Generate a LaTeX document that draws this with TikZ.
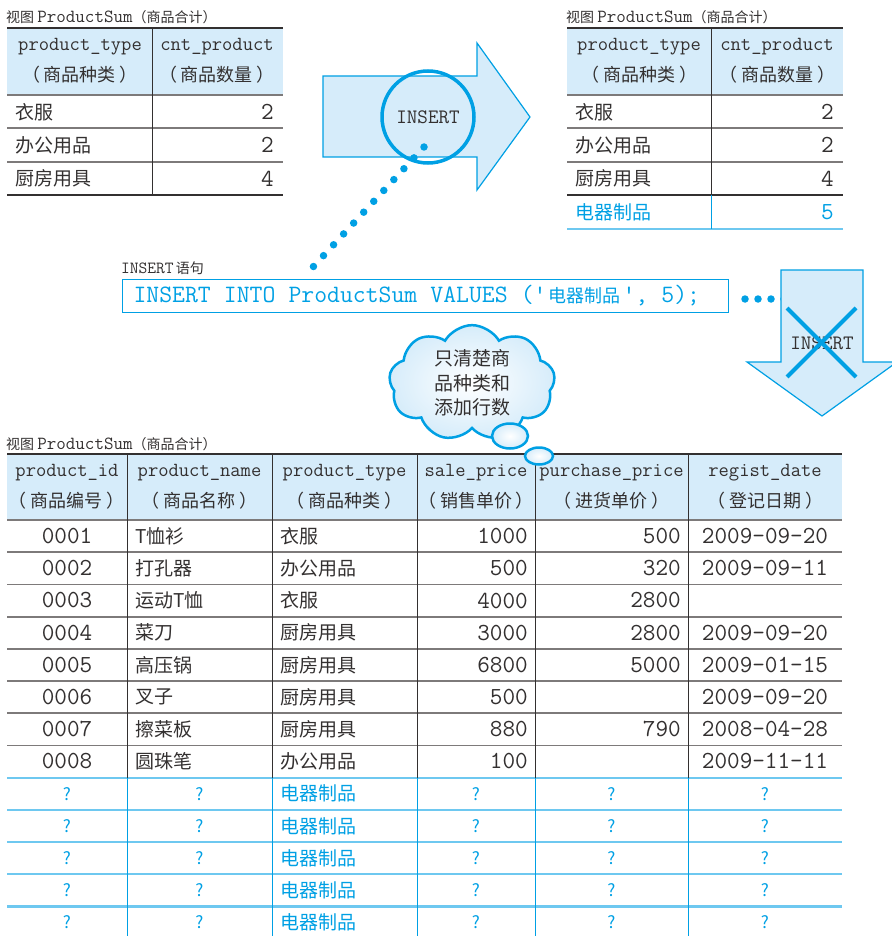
\documentclass[tikz,border=0pt]{standalone}
\usepackage{fontspec}
\setmainfont{Noto Sans CJK SC}
\newfontfamily\cjk{Noto Sans CJK SC}
\usetikzlibrary{shapes.symbols,shapes.geometric}

\definecolor{ink}{RGB}{51,48,48}
\definecolor{sqlblue}{RGB}{0,160,228}
\definecolor{paleblue}{RGB}{214,236,250}
\definecolor{rowblue}{RGB}{110,200,240}
\definecolor{rulegray}{RGB}{125,122,122}

% full-width brackets with some air inside
\newcommand{\wrapcn}[1]{（\hspace{4pt}#1\hspace{4pt}）}

\tikzset{
  cell/.style={inner sep=0pt, text=ink},
  tthead/.style={cell, font=\ttfamily\fontsize{20}{22}\selectfont},
  cnhead/.style={cell, font=\cjk\fontsize{18}{20}\selectfont},
  ttnum/.style={cell, font=\ttfamily\fontsize{24.5}{26}\selectfont},
  cntext/.style={cell, font=\cjk\fontsize{19}{22}\selectfont},
  qmark/.style={cell, text=sqlblue, font=\cjk\fontsize{17}{20}\selectfont},
  caption/.style={cell, anchor=west, font=\cjk\fontsize{14}{16}\selectfont},
  topline/.style={draw=ink, line width=2.2pt},
  rowline/.style={draw=rulegray, line width=1.8pt},
  colline/.style={draw=ink, line width=1pt},
  blueline/.style={draw=rowblue, line width=2.2pt},
  bluecol/.style={draw=sqlblue, line width=1pt},
  bigarrow/.style={fill=paleblue, draw=sqlblue, line width=1.2pt},
  dotrow/.style={draw=sqlblue, line width=7.5pt, line cap=round, dash pattern=on 0pt off #1},
  cross/.style={draw=sqlblue, line width=4pt},
  puff/.style={draw=sqlblue, line width=2.5pt, inner color=white, outer color=paleblue},
  sqlbox/.style={draw=sqlblue, line width=1pt, text=sqlblue, minimum height=33pt,
    text width=584pt, inner xsep=11pt, align=left, font=\ttfamily\fontsize{25}{26}\selectfont}
}

\begin{document}
\begin{tikzpicture}[x=1pt, y=-1pt]
  \useasboundingbox (0,0) rectangle (891,936);

  % View before the INSERT (top left)
  \node[caption] (capA) at (6,17) {视图 {\ttfamily\fontsize{18.5}{20}\selectfont ProductSum}（商品合计）};
  \fill[paleblue] (7,28) rectangle (283,95);
  \draw[topline] (7,28) -- (283,28);
  \foreach \y in {95,128,162}
    \draw[rowline] (7,\y) -- (283,\y);
  \draw[topline] (7,195) -- (283,195);
  \draw[colline] (152,28) -- (152,195);
  \node[tthead] (aH1) at (80,47) {product\_type};
  \node[cnhead] (aC1) at (80,75) {\wrapcn{商品种类}};
  \node[tthead] (aH2) at (217,47) {cnt\_product};
  \node[cnhead] (aC2) at (217,75) {\wrapcn{商品数量}};
  \foreach \tp/\n/\y [count=\i] in {衣服/2/112, 办公用品/2/145, 厨房用具/4/178.5}{
    \node[cntext, anchor=west] (aT\i) at (15,\y) {\tp};
    \node[ttnum, anchor=east] (aN\i) at (274,\y) {\n};
  }

  % View after the INSERT (top right)
  \node[caption] (capB) at (566,17) {视图 {\ttfamily\fontsize{18.5}{20}\selectfont ProductSum}（商品合计）};
  \fill[paleblue] (567,28) rectangle (843,95);
  \draw[topline] (567,28) -- (843,28);
  \foreach \y in {95,128,162}
    \draw[rowline] (567,\y) -- (843,\y);
  \draw[topline] (567,195) -- (843,195);
  \draw[blueline] (567,229) -- (843,229);
  \draw[colline] (711,28) -- (711,195);
  \draw[bluecol] (711,195) -- (711,229);
  \node[tthead] (bH1) at (639,47) {product\_type};
  \node[cnhead] (bC1) at (639,75) {\wrapcn{商品种类}};
  \node[tthead] (bH2) at (777,47) {cnt\_product};
  \node[cnhead] (bC2) at (777,75) {\wrapcn{商品数量}};
  \foreach \tp/\n/\y [count=\i] in {衣服/2/112, 办公用品/2/145, 厨房用具/4/178.5}{
    \node[cntext, anchor=west] (bT\i) at (575,\y) {\tp};
    \node[ttnum, anchor=east] (bN\i) at (834,\y) {\n};
  }
  \node[cntext, anchor=west, text=sqlblue] (bT4) at (575,212) {电器制品};
  \node[ttnum, anchor=east, text=sqlblue] (bN4) at (834,212) {5};

  % Right arrow with the INSERT circle
  \draw[bigarrow] (323,76) -- (477,76) -- (477,43) -- (530,117)
    -- (477,190) -- (477,157) -- (323,157) -- cycle;
  \node[circle, draw=sqlblue, line width=3.5pt, minimum size=92pt, inner sep=0pt,
    text=ink, font=\ttfamily\fontsize{20.5}{22}\selectfont] (insA) at (428,117) {INSERT};
  \coordinate (dotA) at (424,147);
  \coordinate (dotB) at (313,267);
  \draw[dotrow=14.8pt] (dotA) -- (dotB);

  % INSERT statement
  \node[cell, anchor=west] (sqlcap) at (121,268)
    {{\ttfamily\fontsize{17}{18}\selectfont INSERT} {\cjk\fontsize{14}{16}\selectfont 语句}};
  \node[sqlbox, anchor=west] (sql) at (122,296)
    {\spaceskip=13.125pt\relax INSERT INTO ProductSum VALUES ('{\cjk\fontsize{18}{24}\selectfont\hspace{2pt}电器制品\hspace{2pt}}', 5);};
  \coordinate (dotC) at (745,299);
  \coordinate (dotD) at (784.3,299);
  \draw[dotrow=13pt] (dotC) -- (dotD);

  % Down arrow, crossed out
  \draw[bigarrow] (781,270) -- (863,270) -- (863,362) -- (897,362)
    -- (822,416) -- (747,362) -- (781,362) -- cycle;
  \node[cell, font=\ttfamily\fontsize{20.5}{22}\selectfont] (insB) at (822,343) {INSERT};
  \draw[cross] (787,308) -- (856,377);
  \draw[cross] (856,308) -- (787,377);

  % Underlying table
  \node[caption] (capC) at (6,444) {视图 {\ttfamily\fontsize{18.5}{20}\selectfont ProductSum}（商品合计）};
  \fill[paleblue] (7,454) rectangle (842,520);
  \draw[topline] (7,454) -- (842,454);
  \foreach \i in {0,...,7}
    \draw[rowline] (7,520+32.2*\i) -- (842,520+32.2*\i);
  \foreach \i in {8,...,12}
    \draw[blueline] (7,520+32.2*\i) -- (842,520+32.2*\i);
  \foreach \x in {127,272,417,535,688}{
    \draw[colline] (\x,454) -- (\x,777.6);
    \draw[bluecol] (\x,777.6) -- (\x,936);
  }
  \foreach \cx/\en/\cn [count=\i] in {67/product\_id/商品编号, 199.5/product\_name/商品名称,
      344.5/product\_type/商品种类, 476/sale\_price/销售单价,
      611.5/purchase\_price/进货单价, 765/regist\_date/登记日期}{
    \node[tthead] (cH\i) at (\cx,473) {\en};
    \node[cnhead] (cC\i) at (\cx,501) {\wrapcn{\cn}};
  }
  \foreach \id/\nm/\tp/\sp/\pp/\rd [count=\i] in {
      0001/T恤衫/衣服/1000/500/2009-09-20,
      0002/打孔器/办公用品/500/320/2009-09-11,
      0003/运动T恤/衣服/4000/2800/,
      0004/菜刀/厨房用具/3000/2800/2009-09-20,
      0005/高压锅/厨房用具/6800/5000/2009-01-15,
      0006/叉子/厨房用具/500//2009-09-20,
      0007/擦菜板/厨房用具/880/790/2008-04-28,
      0008/圆珠笔/办公用品/100//2009-11-11}{
    \pgfmathsetmacro\y{503.9+32.2*\i}
    \node[ttnum] (id\i) at (67,\y) {\id};
    \node[cntext, anchor=west] (nm\i) at (135,\y) {\nm};
    \node[cntext, anchor=west] (tp\i) at (280,\y) {\tp};
    \node[ttnum, anchor=east] (sp\i) at (528,\y) {\sp};
    \node[ttnum, anchor=east] (pp\i) at (681,\y) {\pp};
    \node[ttnum] (rd\i) at (765,\y) {\rd};
  }
  % rows added through the view
  \foreach \i in {9,...,13}{
    \pgfmathsetmacro\y{503.9+32.2*\i}
    \node[qmark] (qa\i) at (67,\y) {?};
    \node[qmark] (qb\i) at (199.5,\y) {?};
    \node[cntext, anchor=west, text=sqlblue] (tp\i) at (280,\y) {电器制品};
    \node[qmark] (qd\i) at (476,\y) {?};
    \node[qmark] (qe\i) at (611.5,\y) {?};
    \node[qmark] (qf\i) at (765,\y) {?};
  }

  % Thought cloud
  \node[cloud, cloud puffs=9, cloud puff arc=120, aspect=1.46, minimum width=166pt,
    minimum height=112pt, inner sep=0pt, puff, align=center, text=ink,
    font=\cjk\fontsize{19}{24.5}\selectfont] (think) at (472,383) {只清楚商\\品种类和\\添加行数};
  \node[ellipse, puff, minimum width=36pt, minimum height=25pt] (bub1) at (510,436) {};
  \node[ellipse, puff, minimum width=28pt, minimum height=17pt] (bub2) at (539,456) {};
\end{tikzpicture}
\end{document}
